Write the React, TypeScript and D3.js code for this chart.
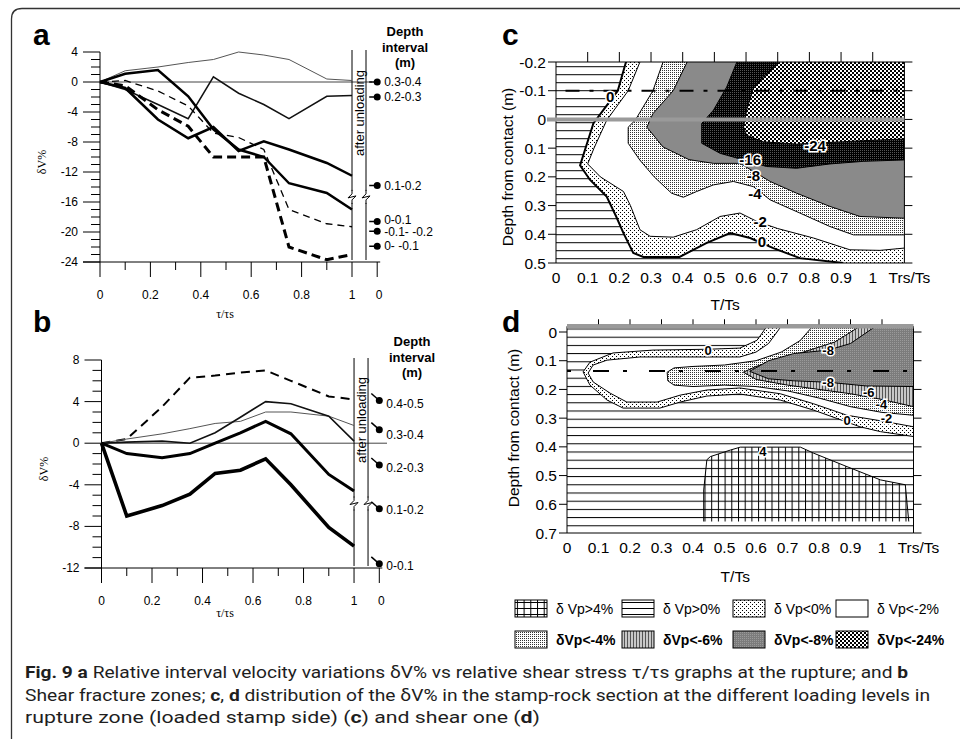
import * as d3 from 'd3';

// ---------- panel a : rupture zone, dV% vs tau/tau_s ----------
const tauA = [0, 0.1, 0.23, 0.35, 0.45, 0.55, 0.65, 0.75, 0.9, 1];
const depthA = ['0.3-0.4', '0.2-0.3', '0.1-0.2', '0-0.1', '-0.1- -0.2', '0- -0.1'];
const dvA = [
  [0, 1.5, 2, 2.6, 3, 4, 3.6, 3, 0.4, 0.2],
  [0, -1, -3, -4.9, 0.7, -1.5, -3, -4.9, -1.9, -1.8],
  [0, -0.8, -5, -7.5, -6, -9.2, -7.9, -9, -10.8, -12.5],
  [0, 1.1, 1.6, -1.9, -6.3, -9, -10, -13.5, -14.8, -17],
  [0, 0.2, -1.2, -3.2, -6.8, -7.4, -9, -17, -18.9, -19.3],
  [0, -0.5, -3.7, -5.9, -10, -10, -10, -22, -23.7, -23],
];
const afterA = [0, -2, -13.8, -18.6, -19.9, -21.9];

// ---------- panel b : shear zone ----------
const tauB = [0, 0.1, 0.24, 0.35, 0.45, 0.55, 0.65, 0.75, 0.9, 1];
const depthB = ['0.4-0.5', '0.3-0.4', '0.2-0.3', '0.1-0.2', '0-0.1'];
const dvB = [
  [0, 0.4, 3.5, 6.3, 6.5, 6.8, 7, 6, 4.5, 4.2],
  [0, 0.4, 0.9, 1.4, 1.9, 2.1, 3, 3, 2.6, 1.7],
  [0, 0.1, 0.2, 0, 1, 2.5, 4, 3.8, 2.6, 0.2],
  [0, -1, -1.4, -1, 0, 1, 2.1, 0.9, -3, -4.6],
  [0, -7, -6, -4.9, -2.9, -2.6, -1.5, -4, -8.1, -9.9],
];
const afterB = [4.1, 1.3, -2.1, -6.3, -11.6];

const tauTicks = [0, 0.1, 0.2, 0.3, 0.4, 0.5, 0.6, 0.7, 0.8, 0.9, 1, 1.1];
const tauTickLabels = ['0', '', '0.2', '', '0.4', '', '0.6', '', '0.8', '', '1', '0'];

// ---------- panel c : contours [T/Ts, depth] ----------
const cC0 = [[0.221, -0.2], [0.195, -0.1], [0.118, 0.014], [0.076, 0.16], [0.107, 0.21], [0.16, 0.269], [0.19, 0.338], [0.213, 0.396], [0.244, 0.465], [0.276, 0.479], [0.39, 0.479], [0.476, 0.43], [0.55, 0.396], [0.613, 0.413], [0.686, 0.448], [0.77, 0.483], [0.907, 0.5]];
const cC2 = [[0.265, -0.2], [0.228, -0.1], [0.16, 0.003], [0.12, 0.1], [0.1, 0.155], [0.14, 0.2], [0.213, 0.251], [0.235, 0.3], [0.265, 0.384], [0.297, 0.407], [0.37, 0.41], [0.444, 0.384], [0.518, 0.338], [0.581, 0.326], [0.634, 0.355], [0.7, 0.38], [0.813, 0.413], [0.928, 0.454], [1.023, 0.456], [1.1, 0.448]];
const cC4 = [[0.338, -0.2], [0.306, -0.1], [0.25, 0.003], [0.228, 0.027], [0.228, 0.083], [0.265, 0.142], [0.31, 0.2], [0.365, 0.257], [0.402, 0.271], [0.444, 0.251], [0.497, 0.228], [0.56, 0.216], [0.623, 0.234], [0.676, 0.28], [0.77, 0.326], [0.865, 0.373], [0.939, 0.402], [1.1, 0.402]];
const cC8 = [[0.414, -0.2], [0.37, -0.1], [0.306, -0.02], [0.287, 0.027], [0.338, 0.096], [0.42, 0.14], [0.497, 0.153], [0.581, 0.153], [0.634, 0.188], [0.676, 0.216], [0.76, 0.257], [0.865, 0.303], [0.96, 0.338], [1.1, 0.344]];
const cC16 = [[0.571, -0.2], [0.539, -0.113], [0.497, -0.032], [0.46, 0.014], [0.46, 0.083], [0.518, 0.118], [0.592, 0.141], [0.665, 0.164], [0.76, 0.17], [0.865, 0.155], [0.97, 0.146], [1.1, 0.141]];
const cC24 = [[0.707, -0.2], [0.655, -0.148], [0.623, -0.107], [0.602, -0.032], [0.592, 0.026], [0.602, 0.055], [0.655, 0.078], [0.76, 0.086], [0.865, 0.08], [0.97, 0.074], [1.1, 0.068]];
const cLabels = ['0', '-24', '-16', '-8', '-4', '-2', '0'];
const cLabelPos = [[0.171, -0.078], [0.818, 0.09], [0.613, 0.139], [0.623, 0.194], [0.628, 0.257], [0.645, 0.355], [0.65, 0.425]];

// ---------- panel d ----------
const dC0 = [[0.635, -0.02], [0.603, 0.029], [0.549, 0.056], [0.45, 0.06], [0.273, 0.063], [0.146, 0.073], [0.073, 0.105], [0.051, 0.139], [0.073, 0.185], [0.127, 0.237], [0.178, 0.265], [0.295, 0.265], [0.359, 0.244], [0.444, 0.223], [0.549, 0.216], [0.677, 0.237], [0.783, 0.272], [0.93, 0.33], [0.995, 0.347], [1.1, 0.364]];
const dC2 = [[0.68, -0.02], [0.64, 0.04], [0.6, 0.07], [0.549, 0.087], [0.232, 0.087], [0.127, 0.098], [0.083, 0.115], [0.067, 0.143], [0.083, 0.174], [0.137, 0.213], [0.19, 0.244], [0.286, 0.244], [0.359, 0.22], [0.444, 0.202], [0.549, 0.195], [0.677, 0.215], [0.783, 0.25], [0.889, 0.29], [1.0, 0.31], [1.1, 0.33]];
const dC4 = [[0.78, -0.02], [0.74, 0.03], [0.68, 0.07], [0.6, 0.1], [0.5, 0.115], [0.4, 0.12], [0.34, 0.125], [0.318, 0.14], [0.32, 0.17], [0.34, 0.185], [0.4, 0.19], [0.5, 0.185], [0.6, 0.19], [0.7, 0.205], [0.8, 0.23], [0.9, 0.26], [1.0, 0.28], [1.1, 0.29]];
const dC6 = [[0.93, -0.02], [0.85, 0.035], [0.75, 0.07], [0.66, 0.1], [0.6, 0.12], [0.56, 0.14], [0.6, 0.165], [0.7, 0.185], [0.8, 0.2], [0.9, 0.215], [1.0, 0.235], [1.1, 0.26]];
const dC8 = [[0.98, -0.02], [0.9, 0.04], [0.83, 0.063], [0.72, 0.075], [0.64, 0.1], [0.58, 0.137], [0.64, 0.163], [0.72, 0.17], [0.83, 0.175], [0.95, 0.188], [1.1, 0.19]];
const dC4plus = [[0.434, 0.66], [0.434, 0.55], [0.444, 0.445], [0.455, 0.434], [0.519, 0.411], [0.55, 0.401], [0.741, 0.401], [0.783, 0.422], [0.889, 0.469], [0.995, 0.515], [1.074, 0.532], [1.085, 0.66]];
const dLabels = ['0', '-8', '-8', '-6', '-4', '-2', '0', '4'];
const dLabelPos = [[0.448, 0.063], [0.829, 0.063], [0.829, 0.174], [0.958, 0.21], [0.998, 0.252], [1.014, 0.302], [0.889, 0.306], [0.622, 0.414]];

const legendLabels = ['δ Vp>4%', 'δ Vp>0%', 'δ Vp<0%', 'δ Vp<-2%', 'δVp<-4%', 'δVp<-6%', 'δVp<-8%', 'δVp<-24%'];

const FONT = 'Liberation Sans, Arial, sans-serif';

const styleA = [
  { w: 1, dash: '', c: '#555' },
  { w: 1.5, dash: '', c: '#111' },
  { w: 2.5, dash: '', c: '#000' },
  { w: 2.5, dash: '', c: '#000' },
  { w: 1.3, dash: '7 5', c: '#000' },
  { w: 3, dash: '9 5', c: '#000' },
];
const styleB = [
  { w: 2, dash: '9 6', c: '#000' },
  { w: 1, dash: '', c: '#555' },
  { w: 1.6, dash: '', c: '#111' },
  { w: 3, dash: '', c: '#000' },
  { w: 3.6, dash: '', c: '#000' },
];

type Sc = d3.ScaleLinear<number, number>;

function LinePanel(props: {
  x: Sc; y: Sc; yMin: number; yMax: number; tau: number[]; names: string[]; values: number[][];
  after: number[]; styles: { w: number; dash: string; c: string }[]; letter: string; letterY: number;
  headY: number; headX: number; unloadY: number; zeroEnd: number; tailUp: boolean; labelDy: number[];
}) {
  const { x, y, yMin, yMax, tau, names, values, after, styles } = props;
  const x0 = x(0);
  const yb = y(yMin);
  const line = d3.line<number>().x((_, i) => x(tau[i])).y((d) => y(d));
  const xu1 = x(1);
  const xu2 = x(1) + 14;
  const zig = y(yMin) - (y(yMin) - y(yMax)) * 0.31;
  return (
    <g fontFamily={FONT}>
      <text x={33} y={props.letterY} fontSize={30} fontWeight="bold">{props.letter}</text>
      {/* y axis */}
      <line x1={x0} x2={x0} y1={y(yMax)} y2={yb} stroke="#000" />
      {d3.range(yMin, yMax + 1).map((v) => (
        <line key={v} x1={x0 - (v % 4 === 0 ? 17 : 9)} x2={x0} y1={y(v)} y2={y(v)} stroke="#000" />
      ))}
      {d3.range(yMin, yMax + 1, 4).map((v) => (
        <text key={v} x={x0 - 22} y={y(v) + 4} fontSize={12} textAnchor="end">{v}</text>
      ))}
      {/* x axis */}
      <line x1={x0 - 17} x2={x(1.1) + 3} y1={yb} y2={yb} stroke="#000" />
      {tauTicks.map((t, i) => (
        <line key={i} x1={x(t)} x2={x(t)} y1={yb} y2={yb + (tauTickLabels[i] ? 15 : 8)} stroke="#000" />
      ))}
      {tauTicks.map((t, i) => (
        <text key={i} x={x(t) + (i === 11 ? 2 : 0)} y={yb + 37} fontSize={12} textAnchor="middle">{tauTickLabels[i]}</text>
      ))}
      <line x1={x0} x2={props.zeroEnd} y1={y(0)} y2={y(0)} stroke="#444" strokeWidth={1} />
      {/* after unloading */}
      <line x1={xu1} x2={xu1} y1={y(yMax) - 2} y2={yb - 2} stroke="#000" />
      <line x1={xu2} x2={xu2} y1={y(yMax) - 2} y2={yb - 2} stroke="#000" />
      <rect x={xu1 - 2} y={zig - 6} width={18} height={12} fill="#fff" />
      {[xu1, xu2].map((xx, i) => (
        <path key={i} d={`M${xx},${zig - 7}L${xx},${zig - 3}L${xx - 4},${zig + 1}L${xx + 4},${zig - 1}L${xx},${zig + 3}L${xx},${zig + 7}`} fill="none" stroke="#000" />
      ))}
      <text transform={`translate(${(xu1 + xu2) / 2 + 4.5},${props.unloadY}) rotate(-90)`} fontSize={13} textAnchor="middle">after unloading</text>
      {/* series */}
      {values.map((vals, i) => (
        <path key={i} d={line(vals) || ''} fill="none" stroke={styles[i].c} strokeWidth={styles[i].w} strokeDasharray={styles[i].dash || undefined} />
      ))}
      {after.map((v, i) => (
        <g key={i}>
          <line x1={x(1.1) - 8} x2={x(1.1)} y1={y(v) - (props.tailUp ? 7 : 0)} y2={y(v)} stroke="#000" strokeWidth={1.5} />
          <circle cx={x(1.1)} cy={y(v)} r={3.5} fill="#000" />
          <text x={x(1.1) + 7} y={y(v) + 4 + props.labelDy[i]} fontSize={12}>{names[i]}</text>
        </g>
      ))}
      {['Depth', 'interval', '(m)'].map((s, i) => (
        <text key={s} x={props.headX} y={props.headY + i * 15.5} fontSize={13} fontWeight="bold" textAnchor="middle">{s}</text>
      ))}
      <text transform={`translate(${x0 - 54},${(y(yMax) + yb) / 2 + 5}) rotate(-90)`} fontSize={12} fontFamily="Liberation Serif, serif" textAnchor="middle">δV%</text>
    </g>
  );
}

function ContourPanel(props: {
  x: Sc; y: Sc; top: number; bottom: number; ticks: number[]; letter: string; letterY: number;
  regions: { pts: number[][]; fill: string; close: number[][]; stroke: number }[];
  extra?: React.ReactNode; overlay: React.ReactNode; labels: string[]; labelPos: number[][]; labelSize: number;
  yLabel: [number, number]; xLabelY: number; grayTop: boolean; id: string;
}) {
  const { x, y, top, bottom } = props;
  const line = d3.line<number[]>().x((p) => x(p[0])).y((p) => y(p[1]));
  const x0 = x(0);
  const x1 = x(1.1);
  const yt = y(top);
  const yb = y(bottom);
  return (
    <g fontFamily={FONT}>
      <text x={502} y={props.letterY} fontSize={30} fontWeight="bold">{props.letter}</text>
      <clipPath id={props.id}>
        <rect x={x0} y={yt} width={x1 - x0} height={yb - yt} />
      </clipPath>
      <g clipPath={`url(#${props.id})`}>
        <rect x={x0} y={yt} width={x1 - x0} height={yb - yt} fill={props.grayTop ? 'url(#hlD)' : 'url(#hlC)'} />
        {props.extra}
        {props.regions.map((r, i) => (
          <g key={i}>
            <path d={(line(r.pts.concat(r.close)) || '') + 'Z'} fill={r.fill} />
            <path d={line(r.pts) || ''} fill="none" stroke="#000" strokeWidth={r.stroke} />
          </g>
        ))}
        {props.overlay}
      </g>
      {props.labels.map((s, i) => (
        <text key={i} x={x(props.labelPos[i][0])} y={y(props.labelPos[i][1]) + props.labelSize * 0.36} fontSize={props.labelSize} fontWeight="bold" textAnchor="middle"
          stroke="#fff" strokeWidth={3} paintOrder="stroke" fill="#000">{s}</text>
      ))}
      {/* frame */}
      <line x1={x0} x2={x0} y1={yt} y2={yb} stroke="#000" />
      <line x1={x1} x2={x1} y1={yt} y2={yb} stroke="#000" />
      <line x1={x0} x2={x1} y1={yb} y2={yb} stroke="#000" />
      {props.grayTop ? (
        <line x1={x0} x2={x1} y1={yt} y2={yt} stroke="#9a9a9a" strokeWidth={4.5} />
      ) : (
        <line x1={x0} x2={x1} y1={yt} y2={yt} stroke="#000" />
      )}
      {props.ticks.map((v) => (
        <g key={v}>
          <line x1={x0 - 8} x2={x0} y1={y(v)} y2={y(v)} stroke="#000" />
          <line x1={x1} x2={x1 + 8} y1={y(v)} y2={y(v)} stroke="#000" />
          <text x={x0 - 10} y={y(v) + 5.5} fontSize={15.5} textAnchor="end">{v}</text>
        </g>
      ))}
      {d3.range(1, 11).map((i) => (
        <line key={i} x1={x(i / 10)} x2={x(i / 10)} y1={yt - (props.grayTop ? 2 : 0)} y2={yt - (props.grayTop ? 7 : 10)} stroke="#000" />
      ))}
      {d3.range(0, 11).map((i) => (
        <text key={i} x={x(i / 10)} y={yb + 20} fontSize={15.5} textAnchor="middle">{i === 0 ? '0' : i === 10 ? '1' : d3.format('.1f')(i / 10)}</text>
      ))}
      <text x={x(1.1) + 5} y={yb + 20} fontSize={15.5} textAnchor="middle">Trs/Ts</text>
      <text x={(x0 + x1) / 2 - 5} y={props.xLabelY} fontSize={15.5} textAnchor="middle">T/Ts</text>
      <text transform={`translate(${props.yLabel[0]},${props.yLabel[1]}) rotate(-90)`} fontSize={15.5} textAnchor="middle">Depth from contact (m)</text>
    </g>
  );
}

export default function App() {
  const xA = d3.scaleLinear().domain([0, 1.1]).range([100, 377.2]);
  const yA = d3.scaleLinear().domain([-24, 4]).range([262, 52]);
  const xB = d3.scaleLinear().domain([0, 1.1]).range([101.5, 379.3]);
  const yB = d3.scaleLinear().domain([-12, 8]).range([568, 360]);
  const xC = d3.scaleLinear().domain([0, 1.1]).range([556, 904.4]);
  const yC = d3.scaleLinear().domain([-0.2, 0.5]).range([62, 263]);
  const xD = d3.scaleLinear().domain([0, 1.1]).range([567, 913.5]);
  const yD = d3.scaleLinear().domain([0, 0.7]).range([332, 533]);

  const cTR = [1.1, -0.2];
  const dTR = [1.1, -0.02];
  const lineD = d3.line<number[]>().x((p) => xD(p[0])).y((p) => yD(p[1]));

  const legendFills = [['url(#hlL)', 'url(#vgrid)'], ['url(#hlL)'], ['url(#sparse)'], ['#fff'], ['url(#dense)'], ['url(#vhatch)'], ['url(#gray8)'], ['url(#checker)']];
  const legX = [515, 622, 733, 836];
  const legY = [600, 631];

  return (
    <svg width={960} height={739} style={{ position: 'absolute', left: 0, top: 0, background: '#fff' }}>
      <defs>
        <pattern id="hlC" width={10} height={8} y={2.2} patternUnits="userSpaceOnUse">
          <rect width={10} height={8} fill="#fff" />
          <rect y={0} width={10} height={1} fill="#000" />
        </pattern>
        <pattern id="hlD" width={10} height={8.2} y={0.5} patternUnits="userSpaceOnUse">
          <rect width={10} height={8.2} fill="#fff" />
          <rect y={0} width={10} height={1} fill="#000" />
        </pattern>
        <pattern id="hlL" width={10} height={6} y={2} patternUnits="userSpaceOnUse">
          <rect width={10} height={6} fill="#fff" />
          <rect y={0} width={10} height={1} fill="#000" />
        </pattern>
        <pattern id="vgrid" width={6.7} height={10} x={1} patternUnits="userSpaceOnUse">
          <rect x={0} width={1} height={10} fill="#000" />
        </pattern>
        <pattern id="sparse" width={4} height={4} patternUnits="userSpaceOnUse">
          <rect width={4} height={4} fill="#fff" />
          <rect x={0} y={0} width={1} height={1} fill="#000" />
          <rect x={2} y={2} width={1} height={1} fill="#000" />
        </pattern>
        <pattern id="dense" width={2} height={2} patternUnits="userSpaceOnUse">
          <rect width={2} height={2} fill="#fff" />
          <rect width={1} height={1} fill="#333" />
        </pattern>
        <pattern id="vhatch" width={3} height={2} patternUnits="userSpaceOnUse">
          <rect width={3} height={2} fill="#c8c8c8" />
          <rect width={1} height={2} fill="#555" />
        </pattern>
        <pattern id="gray8" width={2} height={2} patternUnits="userSpaceOnUse">
          <rect width={2} height={2} fill="#7c7c7c" />
          <rect width={1} height={1} fill="#9a9a9a" />
        </pattern>
        <pattern id="dark16" width={2} height={2} patternUnits="userSpaceOnUse">
          <rect width={2} height={2} fill="#000" />
          <rect width={1} height={1} fill="#555" />
        </pattern>
        <pattern id="checker" width={4} height={4} patternUnits="userSpaceOnUse">
          <rect width={4} height={4} fill="#fff" />
          <rect width={2} height={2} fill="#000" />
          <rect x={2} y={2} width={2} height={2} fill="#000" />
        </pattern>
      </defs>

      {/* figure frame */}
      <path d="M11.5,739 L11.5,19 Q11.5,8.5 22,8.5 L960,8.5" fill="none" stroke="#333" strokeWidth={1.3} />

      <LinePanel x={xA} y={yA} yMin={-24} yMax={4} tau={tauA} names={depthA} values={dvA} after={afterA} styles={styleA}
        letter="a" letterY={45} headX={405} headY={36} unloadY={113} zeroEnd={372} tailUp={false} labelDy={[0, 0, 0, -2, 1, 0]} />
      <text x={225} y={318} fontSize={12} fontFamily="Liberation Serif, serif" textAnchor="middle">τ/τs</text>

      <LinePanel x={xB} y={yB} yMin={-12} yMax={8} tau={tauB} names={depthB} values={dvB} after={afterB} styles={styleB}
        letter="b" letterY={332} headX={412} headY={346} unloadY={420} zeroEnd={387} tailUp={true} labelDy={[3, 5, 3, 1, 2]} />
      <text x={225} y={617} fontSize={12} fontFamily="Liberation Serif, serif" textAnchor="middle">τ/τs</text>

      <ContourPanel id="clipC" x={xC} y={yC} top={-0.2} bottom={0.5} ticks={[-0.2, -0.1, 0, 0.1, 0.2, 0.3, 0.4, 0.5]}
        letter="c" letterY={45} grayTop={false} yLabel={[513, 167]} xLabelY={310} labelSize={15}
        regions={[
          { pts: cC0, fill: 'url(#sparse)', close: [[1.1, 0.5], cTR], stroke: 2 },
          { pts: cC2, fill: '#fff', close: [cTR], stroke: 1 },
          { pts: cC4, fill: 'url(#dense)', close: [cTR], stroke: 1 },
          { pts: cC8, fill: '#8a8a8a', close: [cTR], stroke: 1 },
          { pts: cC16, fill: 'url(#dark16)', close: [cTR], stroke: 1 },
          { pts: cC24, fill: 'url(#checker)', close: [cTR], stroke: 1 },
        ]}
        overlay={
          <g>
            <line x1={xC(0.03)} x2={xC(1.09)} y1={yC(-0.1)} y2={yC(-0.1)} stroke="#000" strokeWidth={2} strokeDasharray="14 10 4 10" />
          </g>
        }
        labels={cLabels} labelPos={cLabelPos} />
      <line x1={547} x2={xC(1.1)} y1={yC(0)} y2={yC(0)} stroke="#9a9a9a" strokeWidth={4} />

      <ContourPanel id="clipD" x={xD} y={yD} top={-0.02} bottom={0.7} ticks={[0, 0.1, 0.2, 0.3, 0.4, 0.5, 0.6, 0.7]}
        letter="d" letterY={332} grayTop={true} yLabel={[519, 428]} xLabelY={582} labelSize={13}
        extra={<path d={(lineD(dC4plus) || '') + 'Z'} fill="url(#vgrid)" stroke="none" />}
        regions={[
          { pts: dC4plus, fill: 'none', close: [], stroke: 1 },
          { pts: dC0, fill: 'url(#sparse)', close: [dTR], stroke: 1 },
          { pts: dC2, fill: '#fff', close: [dTR], stroke: 1 },
          { pts: dC4, fill: 'url(#dense)', close: [dTR], stroke: 1 },
          { pts: dC6, fill: 'url(#vhatch)', close: [dTR], stroke: 1 },
          { pts: dC8, fill: 'url(#gray8)', close: [dTR], stroke: 1 },
        ]}
        overlay={
          <line x1={xD(0)} x2={xD(1.09)} y1={yD(0.136)} y2={yD(0.136)} stroke="#000" strokeWidth={2} strokeDasharray="4 22 16 14" />
        }
        labels={dLabels} labelPos={dLabelPos} />

      {/* legend */}
      <g fontFamily={FONT}>
        {legendLabels.map((s, i) => {
          const col = i % 4;
          const row = Math.floor(i / 4);
          return (
            <g key={i}>
              {legendFills[i].map((f, j) => (
                <rect key={j} x={legX[col]} y={legY[row]} width={32} height={17} fill={f} />
              ))}
              <rect x={legX[col]} y={legY[row]} width={32} height={17} fill="none" stroke="#000" />
              <text x={legX[col] + 41} y={legY[row] + 14} fontSize={14} fontWeight={row === 1 ? 'bold' : 'normal'}>{s}</text>
            </g>
          );
        })}
      </g>

      {/* caption */}
      <g fontFamily="Roboto, sans-serif" fontSize={16.5} fill="#1e1e1e">
        <text x={25} y={678} textLength={883} lengthAdjust="spacingAndGlyphs">
          <tspan fontWeight="bold">Fig. 9</tspan>{'  '}<tspan fontWeight="bold">a</tspan> Relative interval velocity variations δV% vs relative shear stress τ/τs graphs at the rupture; and <tspan fontWeight="bold">b</tspan>
        </text>
        <text x={25} y={701} textLength={905} lengthAdjust="spacingAndGlyphs">
          Shear fracture zones; <tspan fontWeight="bold">c</tspan>, <tspan fontWeight="bold">d</tspan> distribution of the δV% in the stamp-rock section at the different loading levels in
        </text>
        <text x={25} y={723} textLength={515} lengthAdjust="spacingAndGlyphs">
          rupture zone (loaded stamp side) (<tspan fontWeight="bold">c</tspan>) and shear one (<tspan fontWeight="bold">d</tspan>)
        </text>
      </g>
    </svg>
  );
}
